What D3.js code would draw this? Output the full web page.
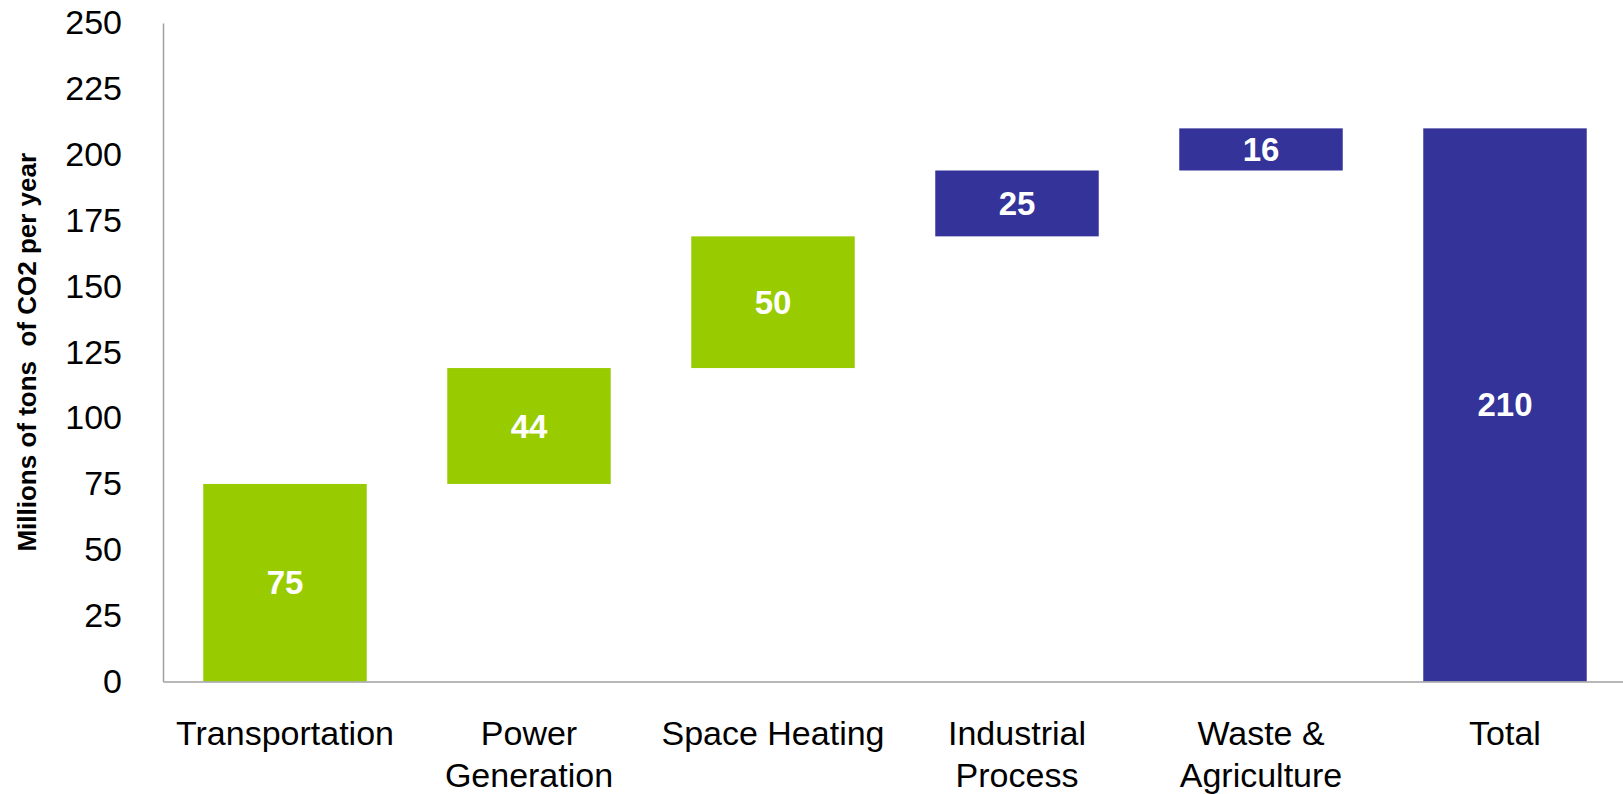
<!DOCTYPE html>
<html>
<head>
<meta charset="utf-8">
<script src="https://cdn.jsdelivr.net/npm/d3@7"></script>
<style>
  body { margin: 0; background: #fff; }
  svg { display: block; font-family: "Liberation Sans", Arial, sans-serif; }
</style>
</head>
<body>
<div id="chart"></div>
<script>
// data
const categories = ["Transportation", "Power Generation", "Space Heating", "Industrial Process", "Waste & Agriculture", "Total"];
const labelLines = [["Transportation"], ["Power", "Generation"], ["Space Heating"], ["Industrial", "Process"], ["Waste &", "Agriculture"], ["Total"]];
const values = [75, 44, 50, 25, 16, 210];
const isTotal = [false, false, false, false, false, true];
const barColors = ["#99cc00", "#99cc00", "#99cc00", "#333399", "#333399", "#333399"];
const yTicks = [0, 25, 50, 75, 100, 125, 150, 175, 200, 225, 250];

const width = 1623, height = 794;
const margin = { top: 23, bottom: 112.5, left: 163, right: -4 };

const svg = d3.select("#chart")
  .append("svg")
  .attr("width", width)
  .attr("height", height);

// waterfall start/end
let running = 0;
const bars = categories.map((c, i) => {
  let start, end;
  if (isTotal[i]) { start = 0; end = values[i]; }
  else { start = running; end = running + values[i]; running = end; }
  return { cat: c, start, end, value: values[i], color: barColors[i], lines: labelLines[i] };
});

const x = d3.scaleBand()
  .domain(categories)
  .range([margin.left, width - margin.right])
  .paddingInner(0.33)
  .paddingOuter(0.165);

const y = d3.scaleLinear()
  .domain([0, 250])
  .range([height - margin.bottom, margin.top]);

// y axis
const yAxis = svg.append("g")
  .attr("transform", `translate(${margin.left},0)`)
  .call(d3.axisLeft(y).tickValues(yTicks).tickSize(0).tickPadding(41));
yAxis.select(".domain").attr("stroke", "#a0a0a0").attr("stroke-width", 1.5);
yAxis.selectAll("text")
  .attr("font-size", 34)
  .attr("font-family", "Liberation Sans, Arial, sans-serif")
  .attr("fill", "#000");

// bars
svg.selectAll("rect.bar")
  .data(bars)
  .enter()
  .append("rect")
  .attr("class", "bar")
  .attr("x", d => x(d.cat))
  .attr("width", x.bandwidth())
  .attr("y", d => y(d.end))
  .attr("height", d => y(d.start) - y(d.end))
  .attr("fill", d => d.color);

// value labels
svg.selectAll("text.val")
  .data(bars)
  .enter()
  .append("text")
  .attr("class", "val")
  .attr("x", d => x(d.cat) + x.bandwidth() / 2)
  .attr("y", d => y((d.start + d.end) / 2))
  .attr("dy", "0.35em")
  .attr("text-anchor", "middle")
  .attr("font-size", 33)
  .attr("font-weight", "bold")
  .attr("fill", "#fff")
  .text(d => d.value);

// x axis
const xAxis = svg.append("g")
  .attr("transform", `translate(0,${height - margin.bottom})`)
  .call(d3.axisBottom(x).tickSize(0).tickSizeOuter(0));
xAxis.select(".domain").attr("stroke", "#a0a0a0").attr("stroke-width", 1.5);
xAxis.selectAll(".tick text").remove();

svg.selectAll("text.cat")
  .data(bars)
  .enter()
  .append("text")
  .attr("class", "cat")
  .attr("text-anchor", "middle")
  .attr("font-size", 34)
  .attr("fill", "#000")
  .each(function(d) {
    const t = d3.select(this);
    d.lines.forEach((line, i) => {
      t.append("tspan")
        .attr("x", x(d.cat) + x.bandwidth() / 2)
        .attr("y", 745 + i * 42)
        .text(line);
    });
  });

// y axis title
svg.append("text")
  .attr("transform", "rotate(-90)")
  .attr("x", -(margin.top + height - margin.bottom) / 2)
  .attr("y", 36)
  .attr("text-anchor", "middle")
  .attr("font-size", 26)
  .attr("font-weight", "bold")
  .attr("fill", "#000")
  .style("white-space", "pre")
  .text("Millions of tons  of CO2 per year");
</script>
</body>
</html>
